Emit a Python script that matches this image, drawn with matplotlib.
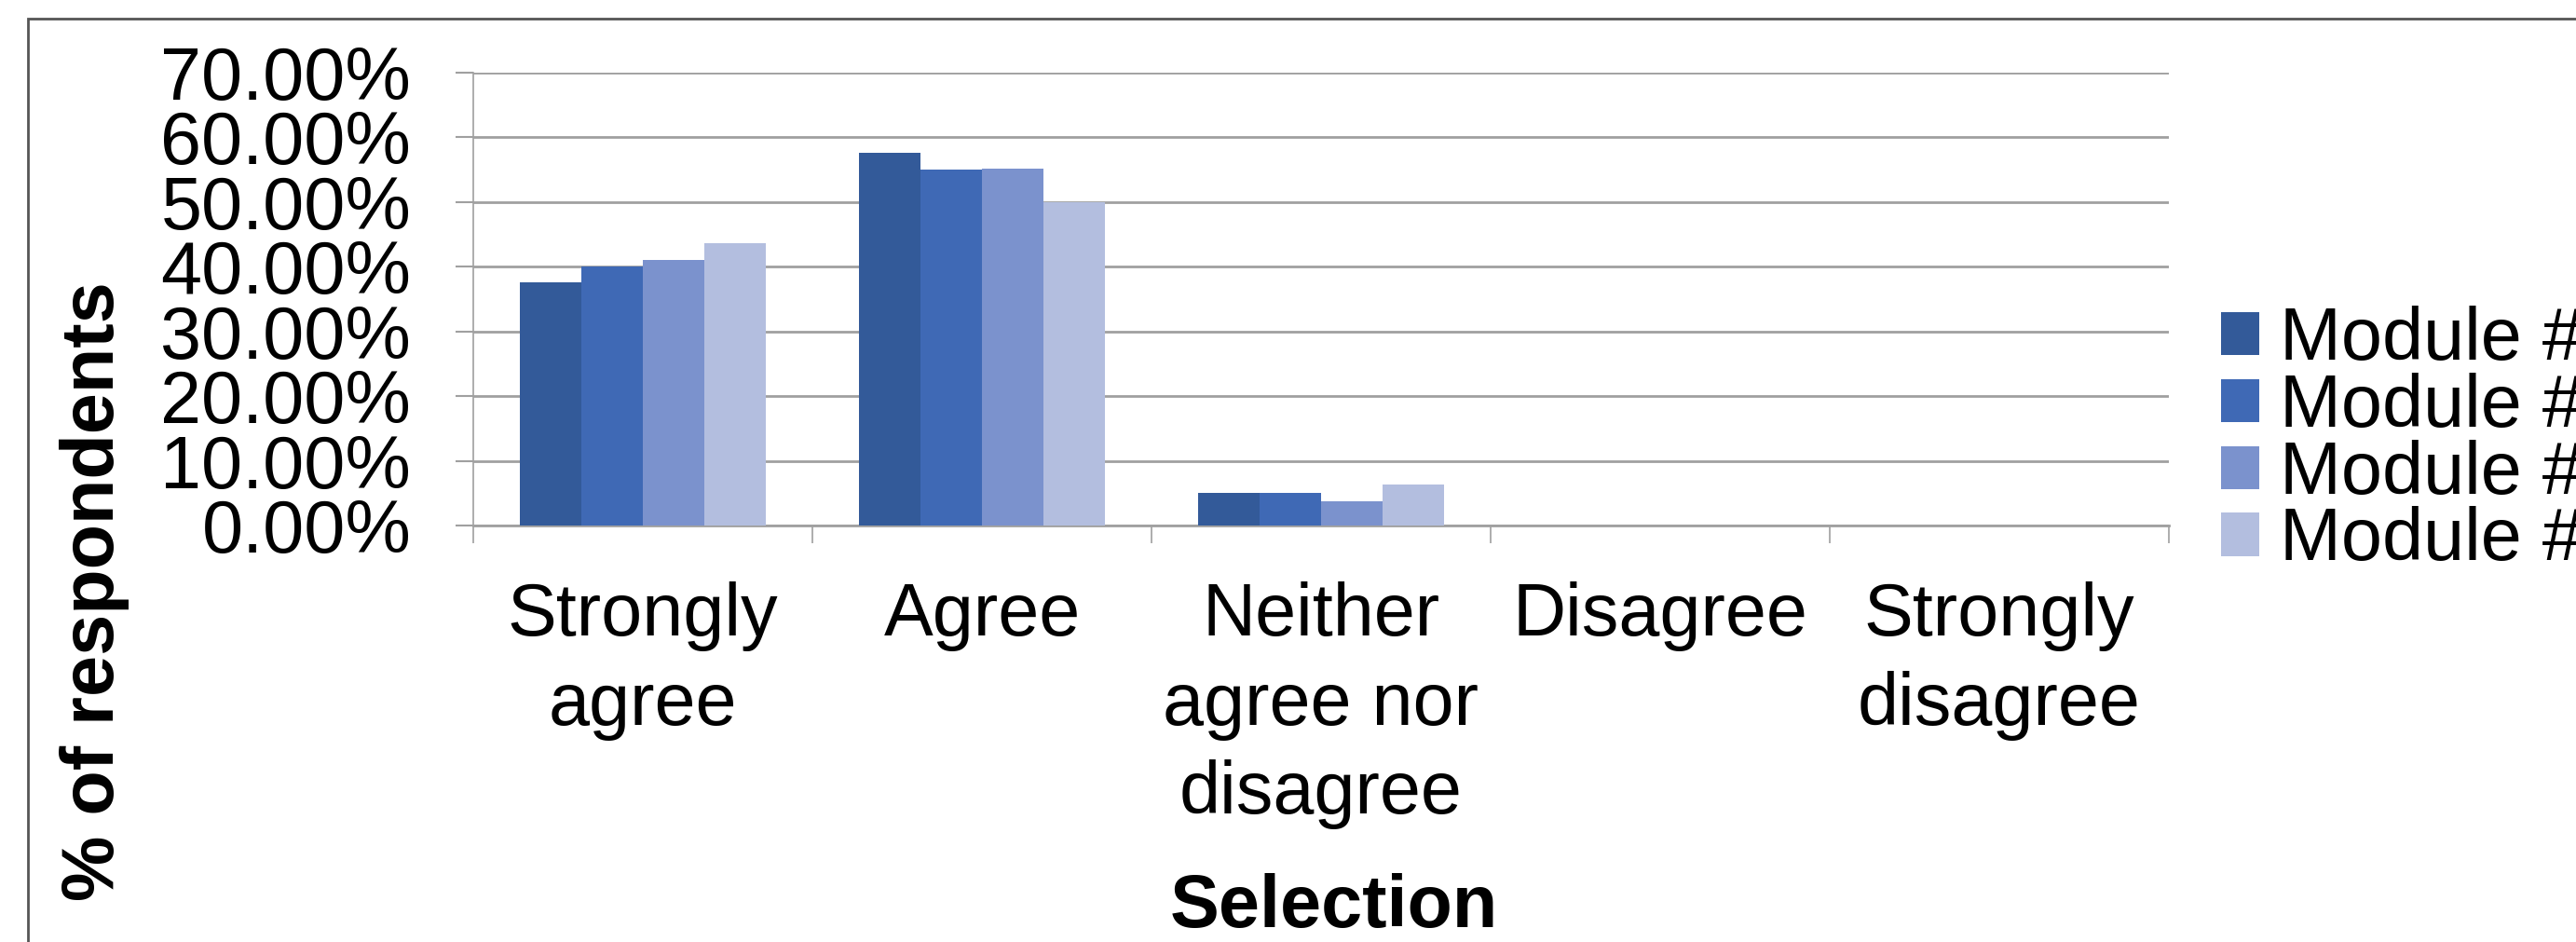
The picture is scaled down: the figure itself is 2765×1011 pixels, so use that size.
import numpy as np
import matplotlib.pyplot as plt
from matplotlib.patches import Rectangle
from matplotlib.ticker import FuncFormatter

plt.rcParams["font.family"] = ["Liberation Sans", "DejaVu Sans"]

categories = ["Strongly\nagree", "Agree", "Neither\nagree nor\ndisagree", "Disagree", "Strongly\ndisagree"]
series_names = ["Module #1", "Module #2", "Module #3", "Module #4"]
module_1 = [37.5, 57.5, 5.0, 0.0, 0.0]
module_2 = [40.0, 55.0, 5.0, 0.0, 0.0]
module_3 = [41.0, 55.1, 3.8, 0.0, 0.0]
module_4 = [43.6, 50.0, 6.4, 0.0, 0.0]
colors = ["#335A99", "#3F69B5", "#7B92CD", "#B3BEDF"]

W, H = 2765, 1011
fs = 57
fig = plt.figure(figsize=(W / 100, H / 100), dpi=100)
ax = fig.add_axes([508 / W, 1 - 564 / H, (2328 - 508) / W, (564 - 77.6) / H])

x = np.arange(len(categories))
bar_w = 1 / 5.5
for i, (vals, name) in enumerate(zip([module_1, module_2, module_3, module_4], series_names)):
    ax.bar(x + (i - 1.5) * bar_w, vals, width=bar_w, color=colors[i], label=name,
           edgecolor="none", zorder=3)

ax.set_xlim(-0.5, len(categories) - 0.5)
ax.set_ylim(0, 70)
ax.set_yticks(np.arange(0, 71, 10))
ax.yaxis.set_major_formatter(FuncFormatter(lambda v, p: f"{v:.2f}%"))
ax.grid(axis="y", color="#a0a0a0", linewidth=2, zorder=0)

# category names at the centres, short ticks at the group boundaries
ax.set_xticks(x)
ax.set_xticklabels(categories, linespacing=1.36)
ax.set_xticks(np.arange(-0.5, len(categories)), minor=True)
ax.tick_params(axis="x", which="major", length=0, pad=43, labelsize=fs)
ax.tick_params(axis="x", which="minor", length=14, width=1.2, color="#a0a0a0")
ax.tick_params(axis="y", length=14, width=1.5, color="#a0a0a0", pad=34, labelsize=fs)

for side in ["top", "right"]:
    ax.spines[side].set_visible(False)
ax.spines["left"].set_color("#a0a0a0")
ax.spines["left"].set_linewidth(1.2)
ax.spines["bottom"].set_color("#a0a0a0")
ax.spines["bottom"].set_linewidth(2)

fig.text(102 / W, 1 - 635 / H, "% of respondents", rotation=90, ha="center", va="center",
         fontsize=57, fontweight="bold")
fig.text(1432 / W, 1 - 975 / H, "Selection", ha="center", va="center",
         fontsize=57, fontweight="bold")

leg = fig.legend(loc="upper left", bbox_to_anchor=(2384 / W, 1 - 328 / H), frameon=False,
                 fontsize=fs, handlelength=0.52, handleheight=0.52, handletextpad=0.28,
                 labelspacing=-0.04, borderaxespad=0, borderpad=0)

# outer chart-area frame, open to the right and bottom like the source
fig.patches.append(Rectangle((30 / W, -0.1), 1.2, 1.1 - 20 / H, transform=fig.transFigure,
                             fill=False, edgecolor="#555555", linewidth=2))

fig.savefig("out.png", dpi=100)
